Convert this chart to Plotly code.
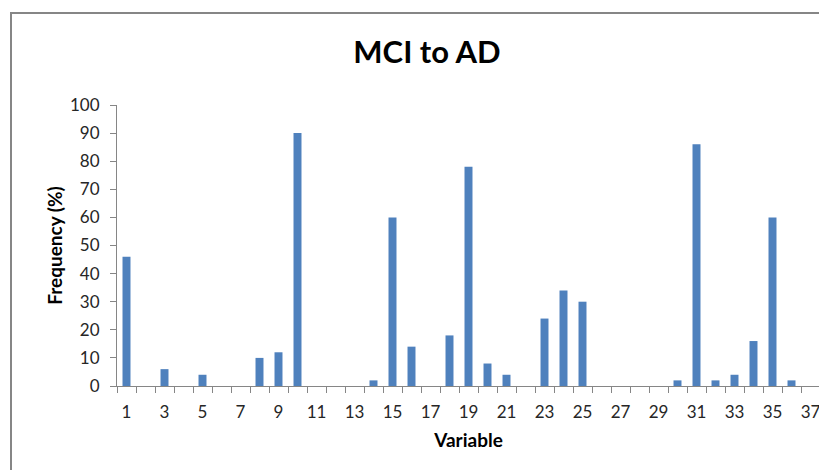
import plotly.graph_objects as go

variables = list(range(1, 38))
frequency = [46, 0, 6, 0, 4, 0, 0, 10, 12, 90,
             0, 0, 0, 2, 60, 14, 0, 18, 78, 8,
             4, 0, 24, 34, 30, 0, 0, 0, 0, 2,
             86, 2, 4, 16, 60, 2, 0]
x_tick_labels = [str(v) for v in range(1, 38, 2)]
y_ticks = list(range(0, 101, 10))

FONT = "Lato"
OFF = 8  # page body margin
W, H = 827 - OFF, 470 - OFF
L, R, T, B = 117 - OFF, 827 - 820, 105 - OFF, 470 - 386
PW, PH = W - L - R, H - T - B

fig = go.Figure()
fig.add_trace(go.Bar(x=variables, y=frequency, marker=dict(color="#4F81BD", line=dict(width=0)),
                     width=0.42))

fig.update_layout(
    width=W, height=H,
    margin=dict(l=L, r=R, t=T, b=B, autoexpand=False),
    paper_bgcolor="white", plot_bgcolor="white",
    showlegend=False,
    font=dict(family=FONT, color="#222"),
    title=dict(text="<b>MCI to AD</b>", x=(427 - OFF) / W, xref="container", xanchor="center",
               y=1 - (52 - OFF) / H, yanchor="middle",
               font=dict(family=FONT, size=31, color="black")),
    xaxis=dict(
        range=[0.5, 37.5],
        tickmode="array",
        tickvals=list(range(1, 38, 2)),
        ticktext=x_tick_labels,
        ticks="", showgrid=False, zeroline=False,
        showline=True, linecolor="#868686", linewidth=1,
        tickfont=dict(family=FONT, size=17, color="#262626"),
        ticklabelstandoff=11,
        minor=dict(tickmode="linear", tick0=0.5, dtick=1, ticks="outside",
                   ticklen=6, tickcolor="#868686", tickwidth=1, showgrid=False),
        title=dict(text="<b>Variable</b>", font=dict(family=FONT, size=19, color="black"),
                   standoff=12),
    ),
    yaxis=dict(
        range=[0, 100],
        tickmode="array", tickvals=y_ticks,
        ticks="outside", ticklen=6, tickcolor="#868686",
        showgrid=False, zeroline=False,
        showline=True, linecolor="#868686", linewidth=1,
        tickfont=dict(family=FONT, size=17, color="#262626"),
        ticklabelstandoff=7,
        title=dict(text="<b>Frequency (%)</b>", font=dict(family=FONT, size=19, color="black"),
                   standoff=2),
    ),
)

# outer chart border (extends beyond the right and bottom of the window)
fig.add_shape(type="rect", xref="paper", yref="paper",
              x0=(11 - 117) / PW, x1=(900 - 117) / PW,
              y0=-(600 - 386) / PH, y1=(386 - 13) / PH,
              line=dict(color="#868686", width=2), fillcolor="rgba(0,0,0,0)", layer="below")

fig.write_html("out.html")
